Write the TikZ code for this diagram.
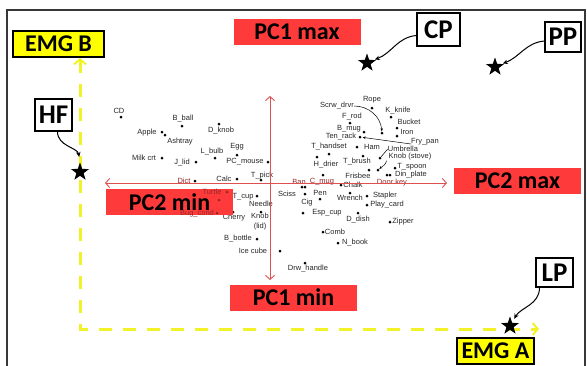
\documentclass[tikz,border=0pt]{standalone}
\usepackage{fontspec}
\setmainfont{Liberation Sans}
\newfontfamily\calib{Carlito}
\usetikzlibrary{arrows.meta,shapes.geometric,positioning}

\definecolor{pcred}{RGB}{255,58,58}
\definecolor{axisred}{RGB}{222,80,80}
\definecolor{lblred}{RGB}{150,40,40}
\definecolor{emgyel}{RGB}{255,255,0}
\definecolor{dashyel}{RGB}{242,242,40}
\definecolor{framegray}{RGB}{55,55,55}

\tikzset{
  pcbox/.style={fill=pcred, minimum width=127pt, minimum height=26pt, inner sep=0pt,
    font=\calib\bfseries\fontsize{24}{26}\selectfont},
  emgbox/.style={fill=emgyel, draw=black, line width=1.2pt, minimum height=26pt, inner sep=0pt,
    font=\calib\bfseries\fontsize{24}{26}\selectfont},
  tagbox/.style={fill=white, draw=black, line width=1.2pt, inner sep=0pt,
    font=\calib\bfseries\fontsize{27}{29}\selectfont},
  gstar/.style={star, star points=5, star point ratio=2.5, fill=black, minimum size=19pt, inner sep=0pt},
  obj/.style={font=\fontsize{7.5}{10}\selectfont, inner sep=0pt, text=black!85, align=center},
  dot/.style={circle, fill=black, inner sep=0pt, minimum size=3pt},
  tagarrow/.style={-{Stealth[length=5pt,width=4.5pt]}, line width=1pt},
  objarrow/.style={-{Stealth[length=3pt,width=2.5pt]}, line width=0.5pt},
  pcaxis/.style={axisred, line width=0.9pt,
    {Straight Barb[length=4pt,width=9pt]}-{Straight Barb[length=4pt,width=9pt]}},
  emgaxis/.style={dashyel, line width=3pt, dash pattern=on 13pt off 11pt,
    {Straight Barb[length=5pt,width=12pt,line width=2pt]}-{Straight Barb[length=5pt,width=12pt,line width=2pt]}}
}

\begin{document}
\begin{tikzpicture}[x=1pt,y=-1pt]
  \useasboundingbox (0,0) rectangle (587,365);
  % Ramme
  \draw[framegray,line width=1.5pt] (7,368) -- (7,10) -- (585,10) -- (585,368);
  % EMG-akser
  \coordinate (emgo) at (80,329);
  \coordinate (emgb) at (80,58);
  \coordinate (emga) at (539,329);
  \draw[emgaxis] (emgb) -- (emgo) -- (emga);
  % Objekter: punkter
  \foreach \px/\py [count=\i] in {121/117,182/126,219/124,162/132,165/135,237/155,215/158,
      162/158,196/162,268/162,261/180,195/181,237/179,233/212,257/196,261/212,257/239,
      280/251,305/263,372/108,391/117,350/123,397/128,364/132,397/136,357/147,329/154,
      317/157,363/156,369/170,395/168,387/175,390/175,323/175,341/185,302/187,305/187,
      305/194,320/199,303/213,350/193,367/196,367/205,358/213,390/222,323/232,338/243}
    \node[dot] (d\i) at (\px,\py) {};
  \node[dot] (tenrack) at (360,137) {};
  \node[dot] (scrwdot) at (382,133) {};
  \node[dot] (umbrdot) at (380,158) {};
  \node[dot] (knobdot) at (378,170) {};
  % Objekter: navn
  \foreach \px/\py/\txt [count=\i] in {119/111/CD,183/119/B\_ball,221/131/D\_knob,
      147/133/Apple,180/142/Ashtray,237/147/Egg,212/152/L\_bulb,144/158/Milk crt,
      182/163/J\_lid,245/162/PC\_mouse,262/176/T\_pick,224/179/Calc,243/197/T\_cup,
      261/204/Needle,234/218/Cherry,260/222/{Knob\\(lid)},238/239/B\_bottle,
      253/251/Ice cube,308/269/Drw\_handle,372/100/Rope,398/111/K\_knife,352/117/F\_rod,
      409/122/Bucket,349/129/B\_mug,407/132/Iron,341/137/Ten\_rack,329/147/T\_handset,
      372/147/Ham,357/162/T\_brush,326/165/H\_drier,412/167/T\_spoon,411/175/Din\_plate,
      358/176/Frisbee,353/185/Chalk,287/194/Sciss,320/193/Pen,307/203/Cig,350/198/Wrench,
      385/196/Stapler,387/205/Play\_card,327/213/Esp\_cup,358/220/D\_dish,403/222/Zipper,
      335/232/Comb,355/243/N\_book}
    \node[obj] (l\i) at (\px,\py) {\txt};
  \foreach \px/\py/\txt [count=\i] in {184/181/Dict,299/182/Ban,322/182/C\_mug,392/183/Door key}
    \node[obj,text=lblred] (r\i) at (\px,\py) {\txt};
  \node[obj] (scrw) at (337,106) {Scrw\_drvr};
  \node[obj] (frypan) at (425,142) {Fry\_pan};
  \node[obj] (umbr) at (403,149) {Umbrella};
  \node[obj] (knobst) at (410,157) {Knob (stove)};
  \draw[objarrow] (scrw.east) to[out=0,in=95] (scrwdot);
  \draw[objarrow,shorten >=1pt] ([yshift=-2pt]frypan.west) -- (tenrack);
  \draw[line width=0.5pt] (umbr.west) -- (umbrdot);
  \draw[objarrow] ([xshift=-2pt]knobst.south west) to[out=-100,in=40] (knobdot);
  % PC-akser
  \coordinate (pc2l) at (105,183);
  \coordinate (pc2r) at (447,183);
  \coordinate (pc1t) at (270,96);
  \coordinate (pc1b) at (270,280);
  \draw[pcaxis] (pc2l) -- (pc2r);
  \draw[pcaxis] (pc1t) -- (pc1b);
  % PC-bokser
  \node[pcbox] (pc1max) at (297,32) {PC1 max};
  \node[pcbox] (pc2min) at (169.5,202) {PC2 min};
  \node[pcbox] (pc2max) at (517.5,181) {PC2 max};
  \node[pcbox] (pc1min) at (293.5,297.5) {PC1 min};
  % skjulte objekter under PC2 min
  \node[obj,text=lblred] (turtle) at (212,192) {Turtle};
  \node[obj,text=lblred] (bugcond) at (197,214) {Bug\_cond};
  \foreach \px/\py [count=\i] in {227/192,219/200,217/213}
    \node[dot,fill=lblred] (h\i) at (\px,\py) {};
  % EMG-bokser
  \node[emgbox,minimum width=91pt] (emgbbox) at (58.5,44) {EMG B};
  \node[emgbox,minimum width=77pt] (emgabox) at (495.5,351) {EMG A};
  % Grep
  \node[gstar] (hfstar) at (80,172) {};
  \node[gstar] (cpstar) at (367,63) {};
  \node[gstar] (ppstar) at (495,67) {};
  \node[gstar] (lpstar) at (510,326) {};
  \node[tagbox,minimum width=37pt,minimum height=32pt] (hf) at (53.5,115) {HF};
  \node[tagbox,minimum width=43pt,minimum height=33pt] (cp) at (438.5,29.5) {CP};
  \node[tagbox,minimum width=36pt,minimum height=30pt] (pp) at (563,37) {PP};
  \node[tagbox,minimum width=37pt,minimum height=29pt] (lp) at (554.5,272.5) {LP};
  \draw[tagarrow,shorten >=5pt] ([xshift=4pt]hf.south) to[out=-90,in=100] (hfstar.north);
  \draw[tagarrow,shorten >=1pt] ([yshift=-6pt]cp.west) to[out=185,in=20] (cpstar.25);
  \draw[tagarrow,shorten >=1pt] ([yshift=-4pt]pp.west) to[out=185,in=20] (ppstar.25);
  \draw[tagarrow,shorten >=4pt] ([xshift=-15pt]lp.south) to[out=-90,in=60] (lpstar.60);
\end{tikzpicture}
\end{document}
